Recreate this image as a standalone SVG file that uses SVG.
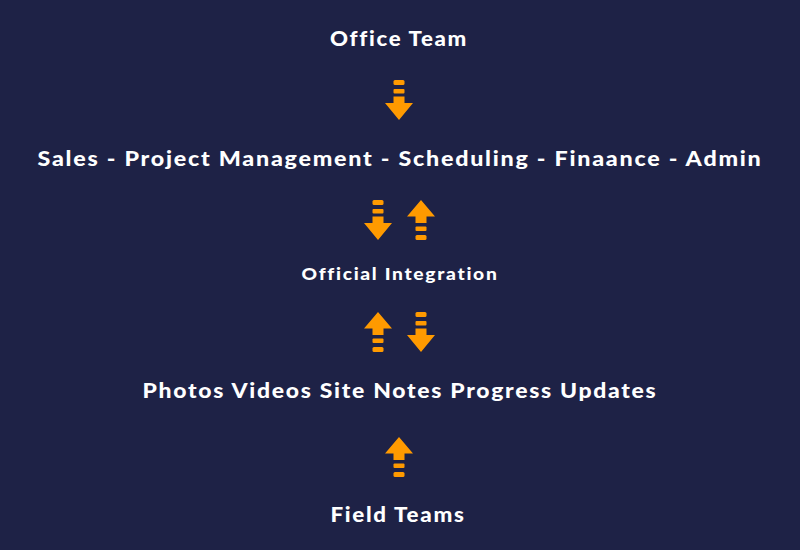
<svg xmlns="http://www.w3.org/2000/svg" width="800" height="550" viewBox="0 0 800 550">
<defs>
<style>
.t{font-family:"Lato","Liberation Sans",sans-serif;font-weight:900;fill:#ffffff;text-anchor:middle;font-variant-ligatures:none;letter-spacing:1.5px;}
.a{fill:#ff9a00;}
</style>
<g id="down">
<rect class="a" x="-5.5" y="0" width="11" height="5" rx="1.5"/>
<rect class="a" x="-5.5" y="9" width="11" height="4.5" rx="1"/>
<path class="a" d="M-5.5 16.5 H5.5 V23 H14 L0 40 L-14 23 H-5.5 Z"/>
</g>
<g id="up">
<path class="a" d="M0 0 L14 16.5 H5.5 V23 H-5.5 V16.5 H-14 Z"/>
<rect class="a" x="-5.5" y="26.5" width="11" height="4.5" rx="1"/>
<rect class="a" x="-5.5" y="35" width="11" height="5" rx="1.5"/>
</g>
</defs>
<rect width="800" height="550" fill="#1e2246"/>
<g id="office-team"><text class="t" x="399" y="46" font-size="20" textLength="138" lengthAdjust="spacingAndGlyphs">Office Team</text></g>
<g id="departments"><text class="t" x="400" y="166" font-size="20" textLength="725" lengthAdjust="spacingAndGlyphs">Sales - Project Management - Scheduling - Finaance - Admin</text></g>
<g id="official-integration"><text class="t" x="400" y="280" font-size="17" textLength="197" lengthAdjust="spacingAndGlyphs">Official Integration</text></g>
<g id="field-data"><text class="t" x="400" y="398" font-size="20" textLength="515" lengthAdjust="spacingAndGlyphs">Photos Videos Site Notes Progress Updates</text></g>
<g id="field-teams"><text class="t" x="398" y="522" font-size="20" textLength="135" lengthAdjust="spacingAndGlyphs">Field Teams</text></g>
<g id="connectors">
<use href="#down" x="399" y="80"/>
<use href="#down" x="378" y="200"/>
<use href="#up" x="421" y="200"/>
<use href="#up" x="378" y="312"/>
<use href="#down" x="421" y="312"/>
<use href="#up" x="399" y="437"/>
</g>
</svg>
